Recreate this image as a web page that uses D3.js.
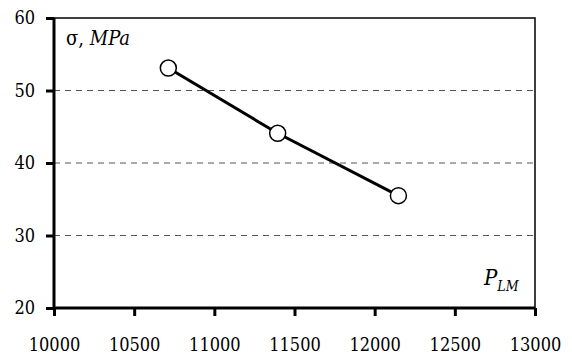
<!DOCTYPE html>
<html>
<head>
<meta charset="utf-8">
<script src="https://cdn.jsdelivr.net/npm/d3@7"></script>
<style>
  body { margin: 0; background: #fff; }
</style>
</head>
<body>
<svg id="chart" width="572" height="356"></svg>
<script>
// data
const pLM = [10713, 11395, 12148];
const sigma = [53.1, 44.1, 35.5];
const xTicks = [10000, 10500, 11000, 11500, 12000, 12500, 13000];
const yTicks = [20, 30, 40, 50, 60];
const gridVals = [30, 40, 50];

const FONT = "'DejaVu Serif Condensed', 'DejaVu Serif'";

const margin = { top: 18, right: 37, bottom: 48, left: 54 };
const width = 572 - margin.left - margin.right;
const height = 356 - margin.top - margin.bottom;

const svg = d3.select('#chart')
  .append('g')
  .attr('transform', 'translate(' + margin.left + ',' + margin.top + ')');

const x = d3.scaleLinear().domain([10000, 13000]).range([0, width]);
const y = d3.scaleLinear().domain([20, 60]).range([height, 0]);

// dashed grid
svg.selectAll('line.grid')
  .data(gridVals)
  .enter()
  .append('line')
  .attr('class', 'grid')
  .attr('x1', 0)
  .attr('x2', width)
  .attr('y1', d => y(d))
  .attr('y2', d => y(d))
  .attr('stroke', '#555')
  .attr('stroke-width', 1)
  .attr('stroke-dasharray', '6,5');

// thin frame top/right
svg.append('path')
  .attr('d', 'M0,' + y(60) + 'H' + width + 'V' + height)
  .attr('fill', 'none')
  .attr('stroke', '#000')
  .attr('stroke-width', 1.5);

// axes
const xAxis = svg.append('g')
  .attr('transform', 'translate(0,' + height + ')')
  .call(d3.axisBottom(x).tickValues(xTicks).tickSize(8).tickPadding(30).tickFormat(d3.format('d')));
const yAxis = svg.append('g')
  .call(d3.axisLeft(y).tickValues(yTicks).tickSize(8).tickPadding(11).tickFormat(d3.format('d')));

[xAxis, yAxis].forEach(g => {
  g.attr('font-family', FONT).attr('font-size', 18);
  g.select('.domain').attr('stroke-width', 3);
  g.selectAll('.tick line').attr('stroke-width', 3);
  g.selectAll('.tick text')
    .style('font-family', FONT)
    .style('font-size', '18px')
    .attr('fill', '#000');
});
xAxis.select('.domain').attr('d', 'M0,0H' + width);
yAxis.select('.domain').attr('d', 'M0,' + height + 'V0');
xAxis.selectAll('.tick text').attr('dy', '0.3em');

// line + markers
const line = d3.line()
  .x((d, i) => x(pLM[i]))
  .y(d => y(d));

svg.append('path')
  .datum(sigma)
  .attr('fill', 'none')
  .attr('stroke', '#000')
  .attr('stroke-width', 3)
  .attr('d', line);

svg.selectAll('circle.pt')
  .data(sigma)
  .enter()
  .append('circle')
  .attr('class', 'pt')
  .attr('cx', (d, i) => x(pLM[i]))
  .attr('cy', d => y(d))
  .attr('r', 8)
  .attr('fill', '#fff')
  .attr('stroke', '#000')
  .attr('stroke-width', 1.5);

// axis titles
const yt = svg.append('text')
  .attr('x', 12)
  .attr('y', 27)
  .style('font-family', FONT)
  .style('font-size', '20px')
  .attr('fill', '#000');
yt.append('tspan').text('σ, ');
yt.append('tspan').attr('font-style', 'italic').text('MPa');

const xt = svg.append('text')
  .attr('x', width - 51)
  .attr('y', height - 23)
  .style('font-family', FONT)
  .style('font-size', '22px')
  .attr('font-style', 'italic')
  .attr('fill', '#000');
xt.append('tspan').text('P');
xt.append('tspan').style('font-size', '14px').attr('dy', 6).text('LM');
</script>
</body>
</html>
